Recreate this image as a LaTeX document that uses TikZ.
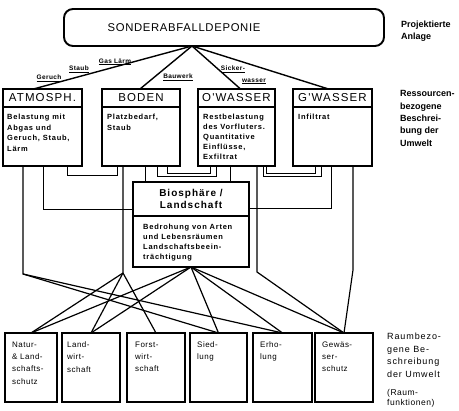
\documentclass[tikz,border=0pt]{standalone}
\usepackage{fontspec}
\setmainfont{Liberation Sans}
\newfontfamily\spc[LetterSpace=10]{Liberation Sans}
\newfontfamily\spcb[LetterSpace=6]{Liberation Sans}
\begin{document}
\begin{tikzpicture}[x=1pt,y=-1pt,
  box/.style={draw,line width=1.2pt,inner sep=0pt,outer sep=0pt,anchor=north west},
  hdr/.style={box,minimum height=18pt,font=\spc\fontsize{11.5}{13}\selectfont},
  bodybox/.style={box,minimum height=59pt},
  txt/.style={anchor=north west,inner sep=0pt,align=left,font=\spc\bfseries\fontsize{7.5}{10.5}\selectfont},
  bottxt/.style={anchor=north west,inner sep=0pt,align=left,font=\spcb\fontsize{8}{12.3}\selectfont},
  botbox/.style={box,line width=1.4pt,minimum height=69pt},
  side/.style={anchor=north west,inner sep=0pt,align=left,font=\bfseries\fontsize{9}{12.3}\selectfont},
  side2/.style={anchor=north west,inner sep=0pt,align=left,font=\spc\fontsize{9}{12.5}\selectfont},
  side3/.style={anchor=north west,inner sep=0pt,align=left,font=\spcb\fontsize{8.5}{10}\selectfont},
  elab/.style={inner sep=0pt,font=\spcb\bfseries\fontsize{6.5}{8}\selectfont},
  main/.style={line width=1.4pt},
  conn/.style={line width=0.9pt},
  fan/.style={line width=1.2pt}]
\useasboundingbox (0,0) rectangle (459,411);

% top box
\node[draw,line width=1.9pt,rounded corners=9pt,minimum width=320pt,minimum height=37pt,inner sep=0pt,outer sep=0pt] (top) at (224,27.5) {};
\node[inner sep=0pt,font=\spcb\fontsize{11.3}{13}\selectfont] (toptxt) at (184,27.5) {SONDERABFALLDEPONIE};
\node[side] (lab1) at (401,20.5) {Projektierte\\Anlage};

% resource boxes
\node[hdr,minimum width=79pt] (atmH) at (3,89) {ATMOSPH.};
\node[bodybox,minimum width=79pt] (atmB) at (3,107) {};
\node[hdr,minimum width=78pt] (bodH) at (102,89) {BODEN};
\node[bodybox,minimum width=78pt] (bodB) at (102,107) {};
\node[hdr,minimum width=77pt] (owH) at (198,89) {O'WASSER};
\node[bodybox,minimum width=77pt] (owB) at (198,107) {};
\node[hdr,minimum width=79pt] (gwH) at (293,89) {G'WASSER};
\node[bodybox,minimum width=79pt] (gwB) at (293,107) {};

\node[txt] (atmT) at ([xshift=4pt,yshift=-7pt]atmB.north west) {Belastung mit\\Abgas und\\Geruch, Staub,\\Lärm};
\node[txt] (bodT) at ([xshift=5pt,yshift=-7pt]bodB.north west) {Platzbedarf,\\Staub};
\node[txt,font=\spc\bfseries\fontsize{7.5}{10}\selectfont] (owT) at ([xshift=5pt,yshift=-7pt]owB.north west) {Restbelastung\\des Vorfluters.\\Quantitative\\Einflüsse,\\Exfiltrat};
\node[txt] (gwT) at ([xshift=5pt,yshift=-7pt]gwB.north west) {Infiltrat};

\node[side] (lab2) at (400,90.5) {Ressourcen-\\bezogene\\Beschrei-\\bung der\\Umwelt};

% lines from top
\coordinate (apex) at ([xshift=-32pt]top.south);
\draw[main] (apex) -- ([xshift=-9pt]atmH.north);
\draw[main] (apex) -- ([xshift=-1pt]bodH.north);
\draw[main] (apex) -- ([xshift=4pt]owH.north);
\draw[main] (apex) -- ([xshift=-4pt]gwH.north);

\node[elab] (lGas) at (115,62) {\underline{Gas Lärm}};
\node[elab] (lStaub) at (79,69.5) {\underline{Staub}};
\node[elab] (lGeruch) at (49,78.5) {\underline{Geruch}};
\node[elab] (lBau) at (178,77.5) {\underline{Bauwerk}};
\node[elab] (lSick) at (233,69.5) {\underline{Sicker-}};
\node[elab] (lWass) at (254,81.5) {\underline{wasser}};

% Biosphaere
\node[box,minimum width=116pt,minimum height=34pt,align=center,font=\spc\bfseries\fontsize{10}{12}\selectfont] (bioH) at (133,182) {Biosphäre /\\Landschaft};
\node[box,minimum width=116pt,minimum height=51pt] (bioB) at (133,216) {};
\node[txt,font=\spc\bfseries\fontsize{7.5}{10}\selectfont] (bioT) at ([xshift=10pt,yshift=-8pt]bioB.north west) {Bedrohung von Arten\\und Lebensräumen\\Landschaftsbeein-\\trächtigung};

% bottom boxes
\node[botbox,minimum width=52pt] (natur) at (5,333) {};
\node[botbox,minimum width=58pt] (land) at (62,333) {};
\node[botbox,minimum width=58pt] (forst) at (127,333) {};
\node[botbox,minimum width=57pt] (sied) at (190,333) {};
\node[botbox,minimum width=59pt] (erho) at (253,333) {};
\node[botbox,minimum width=58pt] (gew) at (315,333) {};

\node[bottxt] (naturT) at ([xshift=7pt,yshift=-8.5pt]natur.north west) {Natur-\\\& Land-\\schafts-\\schutz};
\node[bottxt] (landT) at ([xshift=5pt,yshift=-8.5pt]land.north west) {Land-\\wirt-\\schaft};
\node[bottxt] (forstT) at ([xshift=8pt,yshift=-8.5pt]forst.north west) {Forst-\\wirt-\\schaft};
\node[bottxt] (siedT) at ([xshift=7pt,yshift=-8.5pt]sied.north west) {Sied-\\lung};
\node[bottxt] (erhoT) at ([xshift=7pt,yshift=-8.5pt]erho.north west) {Erho-\\lung};
\node[bottxt] (gewT) at ([xshift=7pt,yshift=-8.5pt]gew.north west) {Gewäs-\\ser-\\schutz};

\node[side2] (lab3) at (387,333) {Raumbezo-\\gene Be-\\schreibung\\der Umwelt};
\node[side3] (lab4) at (387,389) {(Raum-\\funktionen)};

% connectors between resource boxes
\draw[conn] ([xshift=64pt]atmB.south west) -- ++(0,9) -| ([xshift=15pt]bodB.south west);
\draw[conn] ([xshift=55pt]bodB.south west) -- ++(0,10.5) -| ([xshift=18pt]owB.south west);
\draw[conn] ([xshift=65pt]bodB.south west) -- ++(0,7) -| ([xshift=12pt]owB.south west);
\draw[conn] ([xshift=65pt]owB.south west) -- ++(0,10.5) -| ([xshift=28pt]gwB.south west);
\draw[conn] ([xshift=68.5pt]owB.south west) -- ++(0,7) -| ([xshift=22pt]gwB.south west);

% connectors to Biosphaere
\draw[conn] ([xshift=40pt]atmB.south west) |- ([yshift=-10pt]bioH.west);
\coordinate (b5) at ([xshift=43pt]bodB.south west);
\draw[conn] (b5) -- (b5 |- bioH.north);
\coordinate (o8) at ([xshift=32pt]owB.south west);
\draw[conn] (o8) -- (o8 |- bioH.north);
\draw[conn] ([xshift=38pt]gwB.south west) |- ([yshift=-9pt]bioH.east);

% connectors to bottom boxes
\draw[fan] ([xshift=20pt]atmB.south west) -- ++(0,108) coordinate (kA) -- (sied.north);
\draw[fan] (kA) -- (erho.north);
\draw[fan] ([xshift=21pt]bodB.south west) -- ++(0,107) coordinate (kB) -- (natur.north);
\draw[fan] (kB) -- (land.north);
\draw[fan] (kB) -- (forst.north);
\draw[fan] ([xshift=59pt]owB.south west) -- ++(0,106) -- (gew.north);
\draw[fan] ([xshift=60pt]gwB.south west) -- ++(0,104) -- (gew.north);
\foreach \t in {natur,land,sied,erho,gew} \draw[fan] (bioB.south) -- (\t.north);
\end{tikzpicture}
\end{document}
